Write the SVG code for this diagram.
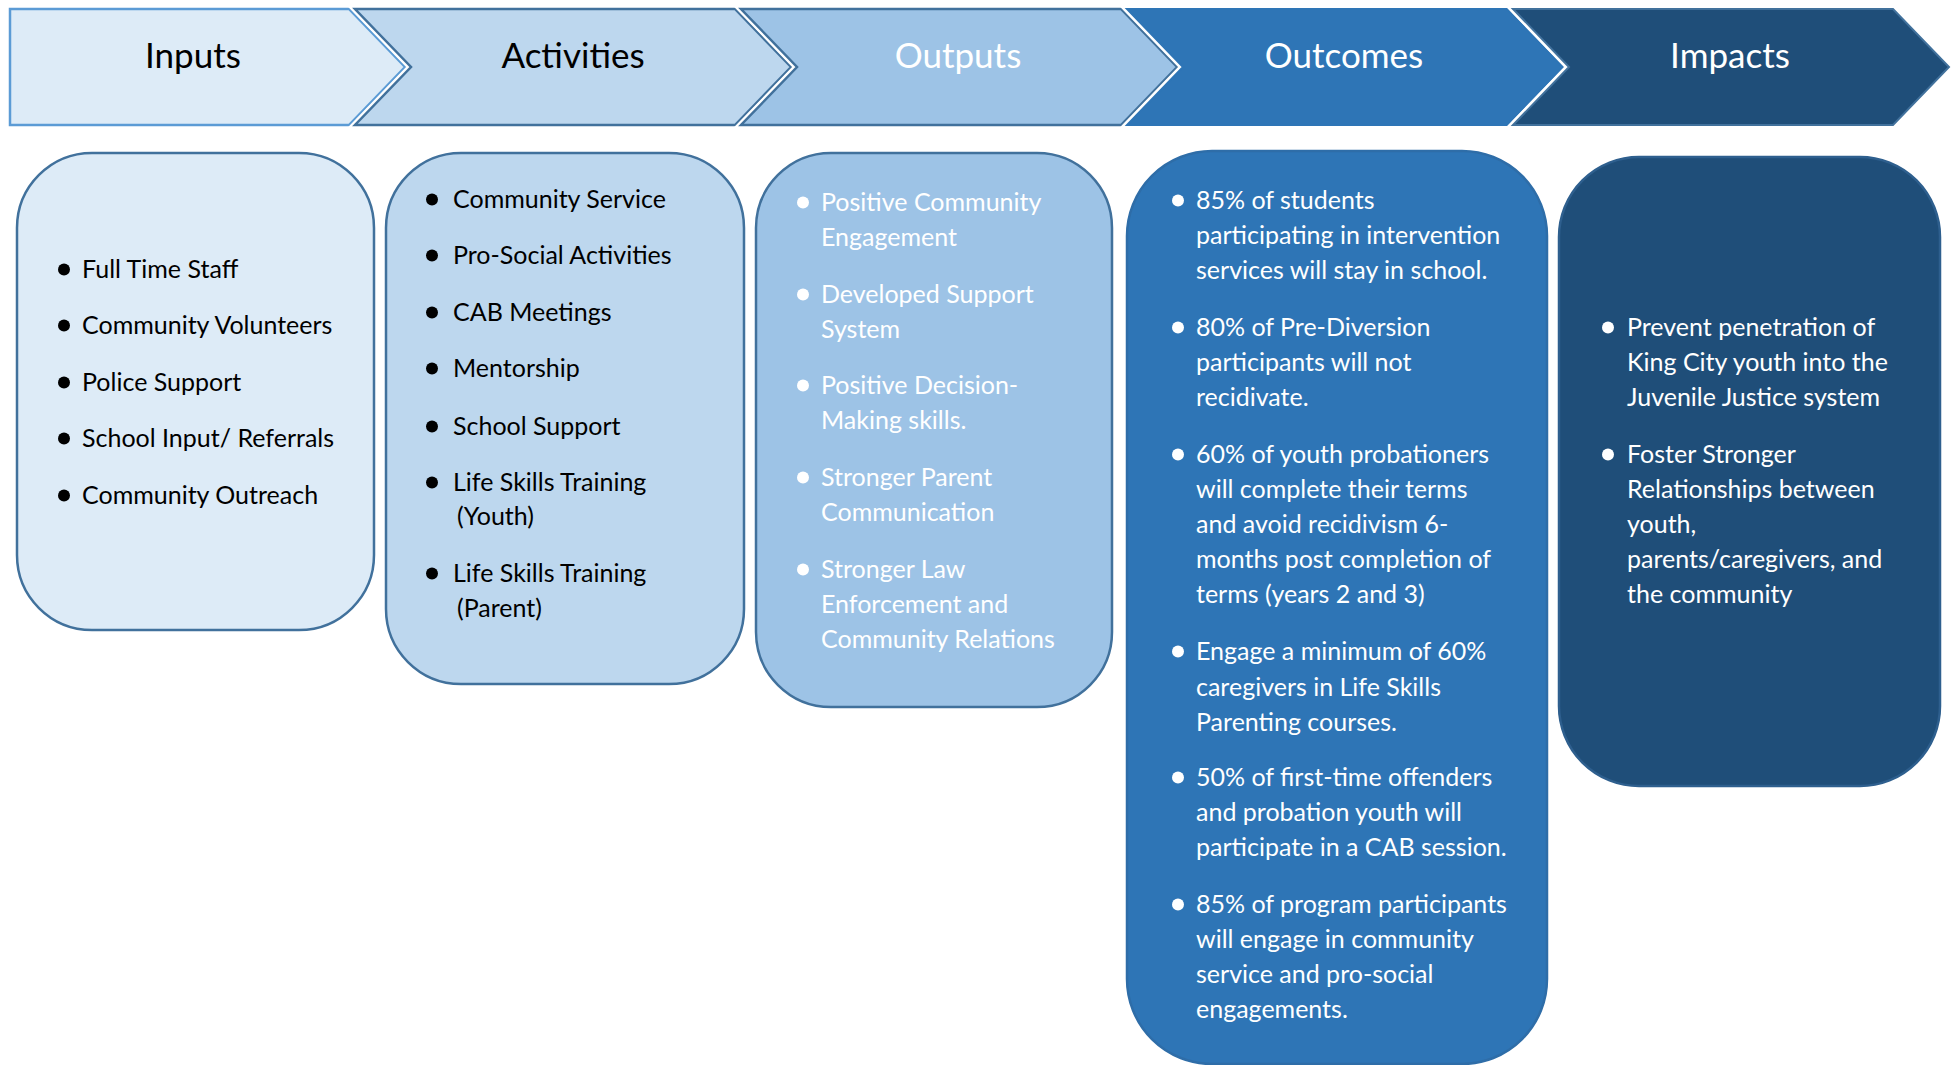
<svg xmlns="http://www.w3.org/2000/svg" width="1953" height="1065" viewBox="0 0 1953 1065">
<style>
.hd{font-family:Lato,"Liberation Sans",sans-serif;font-size:35px;text-anchor:middle}
.tx{font-family:Lato,"Liberation Sans",sans-serif;font-size:25px}
.dk{fill:#000}
.wt{fill:#fff}
.under{fill:none;stroke:#fff;stroke-width:7;stroke-linejoin:miter}
.box{stroke-width:2.5}
</style>
<rect width="1953" height="1065" fill="#fff"/>
<g id="header">
  <g id="chev-inputs">
    <path class="under" d="M10,9 L349,9 L405,67 L349,125 L10,125 Z"/>
    <path d="M10,9 L349,9 L405,67 L349,125 L10,125 Z" fill="#DDEBF7" stroke="#5B9BD5" stroke-width="2.5"/>
    <text class="hd dk" x="193" y="68">Inputs</text>
  </g>
  <g id="chev-activities">
    <path class="under" d="M355,9 L735,9 L791,67 L735,125 L355,125 L411,67 Z"/>
    <path d="M355,9 L735,9 L791,67 L735,125 L355,125 L411,67 Z" fill="#BDD7EE" stroke="#41719C" stroke-width="2.5"/>
    <text class="hd dk" x="573" y="68">Activities</text>
  </g>
  <g id="chev-outputs">
    <path class="under" d="M741,9 L1121,9 L1177,67 L1121,125 L741,125 L797,67 Z"/>
    <path d="M741,9 L1121,9 L1177,67 L1121,125 L741,125 L797,67 Z" fill="#9DC3E6" stroke="#41719C" stroke-width="2.5"/>
    <text class="hd wt" x="958" y="68">Outputs</text>
  </g>
  <g id="chev-outcomes">
    <path class="under" d="M1127,9 L1507,9 L1563,67 L1507,125 L1127,125 L1183,67 Z"/>
    <path d="M1127,9 L1507,9 L1563,67 L1507,125 L1127,125 L1183,67 Z" fill="#2E75B6" stroke="#2E75B6" stroke-width="2"/>
    <text class="hd wt" x="1344" y="68">Outcomes</text>
  </g>
  <g id="chev-impacts">
    <path class="under" d="M1513,9 L1893,9 L1949,67 L1893,125 L1513,125 L1569,67 Z"/>
    <path d="M1513,9 L1893,9 L1949,67 L1893,125 L1513,125 L1569,67 Z" fill="#1F4E79" stroke="#41719C" stroke-width="2"/>
    <text class="hd wt" x="1730" y="68">Impacts</text>
  </g>
</g>
<g id="connectors"></g>
<g id="box-inputs">
  <rect class="box" x="17" y="153" width="357" height="477" rx="75" fill="#DDEBF7" stroke="#41719C"/>
  <g transform="translate(0,1.5)">
  <g class="dk">
    <circle cx="64" cy="268" r="6"/><circle cx="64" cy="324" r="6"/><circle cx="64" cy="381" r="6"/><circle cx="64" cy="437" r="6"/><circle cx="64" cy="494" r="6"/>
  </g>
  <text class="tx dk" x="82" y="276">Full Time Staff</text>
  <text class="tx dk" x="82" y="332">Community Volunteers</text>
  <text class="tx dk" x="82" y="389">Police Support</text>
  <text class="tx dk" x="82" y="445">School Input/ Referrals</text>
  <text class="tx dk" x="82" y="502">Community Outreach</text>
  </g>
</g>
<g id="box-activities">
  <rect class="box" x="386" y="153" width="358" height="531" rx="75" fill="#BDD7EE" stroke="#41719C"/>
  <g transform="translate(0,1.5)">
  <g class="dk">
    <circle cx="432" cy="198" r="6"/><circle cx="432" cy="254" r="6"/><circle cx="432" cy="311" r="6"/><circle cx="432" cy="367" r="6"/><circle cx="432" cy="425" r="6"/><circle cx="432" cy="481" r="6"/><circle cx="432" cy="572" r="6"/>
  </g>
  <text class="tx dk" x="453" y="206">Community Service</text>
  <text class="tx dk" x="453" y="262">Pro-Social Activities</text>
  <text class="tx dk" x="453" y="319">CAB Meetings</text>
  <text class="tx dk" x="453" y="375">Mentorship</text>
  <text class="tx dk" x="453" y="433">School Support</text>
  <text class="tx dk" x="453" y="489">Life Skills Training</text>
  <text class="tx dk" x="457" y="523">(Youth)</text>
  <text class="tx dk" x="453" y="580">Life Skills Training</text>
  <text class="tx dk" x="457" y="615">(Parent)</text>
  </g>
</g>
<g id="box-outputs">
  <rect class="box" x="756" y="153" width="356" height="554" rx="75" fill="#9DC3E6" stroke="#41719C"/>
  <g transform="translate(0,1.5)">
  <g class="wt">
    <circle cx="803" cy="201" r="6"/><circle cx="803" cy="293" r="6"/><circle cx="803" cy="384" r="6"/><circle cx="803" cy="476" r="6"/><circle cx="803" cy="568" r="6"/>
  </g>
  <text class="tx wt" x="821" y="209">Positive Community</text>
  <text class="tx wt" x="821" y="244">Engagement</text>
  <text class="tx wt" x="821" y="301">Developed Support</text>
  <text class="tx wt" x="821" y="336">System</text>
  <text class="tx wt" x="821" y="392">Positive Decision-</text>
  <text class="tx wt" x="821" y="427">Making skills.</text>
  <text class="tx wt" x="821" y="484">Stronger Parent</text>
  <text class="tx wt" x="821" y="519">Communication</text>
  <text class="tx wt" x="821" y="576">Stronger Law</text>
  <text class="tx wt" x="821" y="611">Enforcement and</text>
  <text class="tx wt" x="821" y="646">Community Relations</text>
  </g>
</g>
<g id="box-outcomes">
  <rect class="box" x="1127" y="151" width="420" height="913" rx="85" fill="#2E75B6" stroke="#2E6DA8"/>
  <g transform="translate(0,1.5)">
  <g class="wt">
    <circle cx="1178" cy="199" r="6"/><circle cx="1178" cy="326" r="6"/><circle cx="1178" cy="453" r="6"/><circle cx="1178" cy="650" r="6"/><circle cx="1178" cy="776" r="6"/><circle cx="1178" cy="903" r="6"/>
  </g>
  <text class="tx wt" x="1196" y="207">85% of students</text>
  <text class="tx wt" x="1196" y="242">participating in intervention</text>
  <text class="tx wt" x="1196" y="277">services will stay in school.</text>
  <text class="tx wt" x="1196" y="334">80% of Pre-Diversion</text>
  <text class="tx wt" x="1196" y="369">participants will not</text>
  <text class="tx wt" x="1196" y="404">recidivate.</text>
  <text class="tx wt" x="1196" y="461">60% of youth probationers</text>
  <text class="tx wt" x="1196" y="496">will complete their terms</text>
  <text class="tx wt" x="1196" y="531">and avoid recidivism 6-</text>
  <text class="tx wt" x="1196" y="566">months post completion of</text>
  <text class="tx wt" x="1196" y="601">terms (years 2 and 3)</text>
  <text class="tx wt" x="1196" y="658">Engage a minimum of 60%</text>
  <text class="tx wt" x="1196" y="694">caregivers in Life Skills</text>
  <text class="tx wt" x="1196" y="729">Parenting courses.</text>
  <text class="tx wt" x="1196" y="784">50% of first-time offenders</text>
  <text class="tx wt" x="1196" y="819">and probation youth will</text>
  <text class="tx wt" x="1196" y="854">participate in a CAB session.</text>
  <text class="tx wt" x="1196" y="911">85% of program participants</text>
  <text class="tx wt" x="1196" y="946">will engage in community</text>
  <text class="tx wt" x="1196" y="981">service and pro-social</text>
  <text class="tx wt" x="1196" y="1016">engagements.</text>
  </g>
</g>
<g id="box-impacts">
  <rect class="box" x="1559" y="157" width="381" height="629" rx="80" fill="#1F4E79" stroke="#2E5F8E"/>
  <g transform="translate(0,1.5)">
  <g class="wt">
    <circle cx="1608" cy="326" r="6"/><circle cx="1608" cy="453" r="6"/>
  </g>
  <text class="tx wt" x="1627" y="334">Prevent penetration of</text>
  <text class="tx wt" x="1627" y="369">King City youth into the</text>
  <text class="tx wt" x="1627" y="404">Juvenile Justice system</text>
  <text class="tx wt" x="1627" y="461">Foster Stronger</text>
  <text class="tx wt" x="1627" y="496">Relationships between</text>
  <text class="tx wt" x="1627" y="531">youth,</text>
  <text class="tx wt" x="1627" y="566">parents/caregivers, and</text>
  <text class="tx wt" x="1627" y="601">the community</text>
  </g>
</g>
</svg>
